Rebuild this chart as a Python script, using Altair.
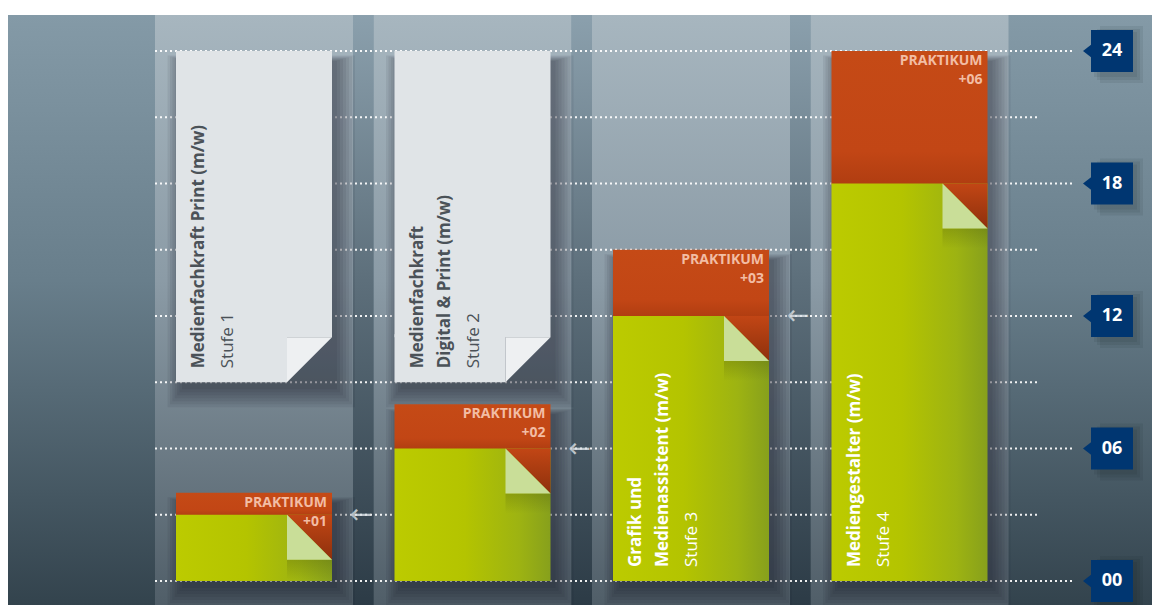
import altair as alt
import pandas as pd

# ---------------- data ----------------
stage_no = [1, 2, 3, 4]
stufe_labels = ["Stufe 1", "Stufe 2", "Stufe 3", "Stufe 4"]
title_lines = [
    ["Medienfachkraft Print (m/w)"],
    ["Medienfachkraft", "Digital & Print (m/w)"],
    ["Grafik und", "Medienassistent  (m/w)"],
    ["Mediengestalter (m/w)"],
]
ausbildung = [3, 6, 12, 18]          # green part (months)
praktikum = [1, 2, 3, 6]             # orange part (months)
praktikum_labels = ["+01", "+02", "+03", "+06"]
card_from = [9, 9, None, None]       # grey title cards of stage 1 & 2
card_to = [24, 24, None, None]
major_ticks = [0, 6, 12, 18, 24]
minor_ticks = [3, 9, 15, 21]

# ---------------- layout constants ----------------
W, H = 1144, 590
PX_X = 218.5                 # pixels per stage step
PX_Y = 530 / 24              # pixels per month
X_DOM = [1 - 246 / PX_X, 1 - 246 / PX_X + W / PX_X]
Y_DOM = [-24 / PX_Y, 566 / PX_Y]
ux = lambda p: p / PX_X
uy = lambda p: p / PX_Y

BAR_HALF = ux(78)
BAND_HALF = ux(99)
FX, FY = ux(45), uy(45)
FONT = "Open Sans"

xs = alt.Scale(domain=X_DOM, nice=False, zero=False)
ys = alt.Scale(domain=Y_DOM, nice=False, zero=False)
X = lambda f: alt.X(f, type="quantitative", scale=xs, axis=None)
Y = lambda f: alt.Y(f, type="quantitative", scale=ys, axis=None)


def vgrad(stops, horizontal=False):
    return alt.Gradient(
        gradient="linear",
        stops=[alt.GradientStop(offset=o, color=c) for o, c in stops],
        x1=0, y1=0, x2=1 if horizontal else 0, y2=0 if horizontal else 1,
    )


# ---------------- background ----------------
bg = alt.Chart(pd.DataFrame({"a": [0]})).mark_rect(
    color=vgrad([(0, "#849aa7"), (0.45, "#687e8b"), (1, "#33434d")])
).encode(x=alt.value(0), x2=alt.value(W), y=alt.value(0), y2=alt.value(H))

band_df = pd.DataFrame({"s": stage_no})
band_df["x0"] = band_df.s - BAND_HALF
band_df["x1"] = band_df.s + BAND_HALF
bands = alt.Chart(band_df).mark_rect(
    color=vgrad([(0, "#a7b6bf"), (0.45, "#8b9ba6"), (1, "#505e68")])
).encode(x=X("x0"), x2="x1", y=alt.value(0), y2=alt.value(H))

gap_df = pd.DataFrame({"s": stage_no[:-1]})
gap_df["x0"] = gap_df.s + BAND_HALF
gap_df["x1"] = gap_df.s + 1 - BAND_HALF
gaps = alt.Chart(gap_df).mark_rect(
    color=vgrad([(0, "#8ba0ad"), (0.45, "#5d6f7b"), (1, "#2c3b46")])
).encode(x=X("x0"), x2="x1", y=alt.value(0), y2=alt.value(H))

# ---------------- grid ----------------
GRID_X0 = 1 - BAND_HALF
grid_df = pd.DataFrame(
    {"v": major_ticks + minor_ticks,
     "x0": [GRID_X0] * (len(major_ticks) + len(minor_ticks)),
     "x1": [1 + ux(1073 - 254)] * len(major_ticks) + [1 + ux(1037 - 254)] * len(minor_ticks)}
)
grid = alt.Chart(grid_df).mark_rule(
    color="white", strokeWidth=2, strokeDash=[2, 3], opacity=0.92
).encode(x=X("x0"), x2="x1", y=Y("v"))

# arrows
arrow_df = pd.DataFrame({"s": stage_no[:-1], "v": ausbildung[:-1]})
arrow_df["x"] = arrow_df.s + BAR_HALF + ux(29)
arrow_df["t"] = "←"
arrows = alt.Chart(arrow_df).mark_text(
    font="DejaVu Sans", fontSize=27, color="#dfe5ea", opacity=0.8, baseline="middle"
).encode(x=X("x"), y=Y("v"), text="t:N")

# ---------------- shadows ----------------
rows = []
for i, s in enumerate(stage_no):
    blocks = [(0, ausbildung[i] + praktikum[i])]
    if card_from[i] is not None:
        blocks.append((card_from[i], card_to[i]))
    for lo, hi in blocks:
        for k in [0, 3, 6, 9, 12, 15, 18]:
            rows.append({
                "x0": s - BAR_HALF + ux(6 - 0.8 * k), "x1": s + BAR_HALF + ux(5 + k),
                "y0": lo - uy(7 + k), "y1": hi - uy(10 - 0.3 * k),
            })
shadow_df = pd.DataFrame(rows)
shadows = alt.Chart(shadow_df).mark_rect(color="#0b141b", opacity=0.07).encode(
    x=X("x0"), x2="x1", y=Y("y0"), y2="y1")

# ---------------- title cards (grey paper) ----------------
cards = pd.DataFrame({"s": stage_no, "c0": card_from, "c1": card_to}).dropna()
cards["x0"] = cards.s - BAR_HALF
cards["x1"] = cards.s + BAR_HALF
cards["xf"] = cards.x1 - FX
cards["cf"] = cards.c0 + FY
cards["cfo"] = cards.cf + uy(3)      # small overlap, hides the seam
PAPER = "#e0e4e7"
card_top = alt.Chart(cards).mark_rect(color=PAPER).encode(
    x=X("x0"), x2="x1", y=Y("cf"), y2="c1")
card_low = alt.Chart(cards).mark_rect(color=PAPER).encode(
    x=X("x0"), x2="xf", y=Y("c0"), y2="cfo")
cf_rows = []
for _, r in cards.iterrows():
    cf_rows.append({"s": r.s, "x": r.xf, "y": r.c0, "y2": r.cf})
    cf_rows.append({"s": r.s, "x": r.x1, "y": r.cf, "y2": r.cf})
card_fold = alt.Chart(pd.DataFrame(cf_rows)).mark_area(
    color="#eef0f2", interpolate="linear").encode(
    x=X("x"), y=Y("y"), y2="y2", detail="s:N")

# ---------------- bars ----------------
bars = pd.DataFrame({"s": stage_no, "g": ausbildung, "p": praktikum})
bars["top"] = bars.g + bars.p
bars["zero"] = 0
bars["x0"] = bars.s - BAR_HALF
bars["x1"] = bars.s + BAR_HALF
bars["gl"] = bars.g - uy(1)
orange = alt.Chart(bars).mark_rect(
    color=vgrad([(0, "#c54a16"), (0.75, "#c24615"), (1, "#b03d11")])
).encode(x=X("x0"), x2="x1", y=Y("gl"), y2="top")
green = alt.Chart(bars).mark_rect(
    color=vgrad([(0, "#bccb00"), (0.45, "#b4c400"), (0.8, "#9db312"), (1, "#87a01c")], horizontal=True)
).encode(x=X("x0"), x2="x1", y=Y("zero"), y2="g")

of_rows, gf_rows, sh_rows = [], [], []
for _, r in bars.iterrows():
    xf = r.x1 - FX
    of_rows.append({"s": r.s, "x": xf, "y": r.g, "y2": r.g})
    of_rows.append({"s": r.s, "x": r.x1, "y": r.g - FY, "y2": r.g})
    gf_rows.append({"s": r.s, "x": xf, "y": r.g - FY, "y2": r.g})
    gf_rows.append({"s": r.s, "x": r.x1, "y": r.g - FY, "y2": r.g - FY})
    sh_rows.append({"x0": xf, "x1": r.x1, "y0": r.g - FY - uy(20), "y1": r.g - FY})
orange_fold = alt.Chart(pd.DataFrame(of_rows)).mark_area(
    color=vgrad([(0, "#c24615"), (1, "#8e300c")]), interpolate="linear").encode(
    x=X("x"), y=Y("y"), y2="y2", detail="s:N")
fold_shadow = alt.Chart(pd.DataFrame(sh_rows)).mark_rect(
    color=vgrad([(0, "rgba(60,70,10,0.22)"), (1, "rgba(60,70,10,0)")])).encode(
    x=X("x0"), x2="x1", y=Y("y1"), y2="y0")
green_fold = alt.Chart(pd.DataFrame(gf_rows)).mark_area(
    color="#c9de98", interpolate="linear").encode(
    x=X("x"), y=Y("y"), y2="y2", detail="s:N")

# Praktikum labels
pk_rows = []
for _, r in bars.iterrows():
    pk_rows.append({"x": r.x1 - ux(5), "y": r.top - uy(10), "t": "PRAKTIKUM"})
    pk_rows.append({"x": r.x1 - ux(5), "y": r.top - uy(29), "t": praktikum_labels[int(r.s) - 1]})
pk_text = alt.Chart(pd.DataFrame(pk_rows)).mark_text(
    font=FONT, fontSize=14, fontWeight="bold", color="#f2bda4", align="right", baseline="middle"
).encode(x=X("x"), y=Y("y"), text="t:N")

# ---------------- vertical titles ----------------
bold_rows, reg_rows = [], []
for i, s in enumerate(stage_no):
    x0 = s - BAR_HALF
    on_card = card_from[i] is not None
    base = (card_from[i] if on_card else 0) + uy(14)
    col = "#4b5258" if on_card else "#ffffff"
    for j, line in enumerate(title_lines[i]):
        bold_rows.append({"x": x0 + ux(23 + 27 * j), "y": base, "t": line, "c": col})
    n = len(title_lines[i])
    reg_rows.append({"x": x0 + ux(23 + 27 * (n - 1) + 29), "y": base, "t": stufe_labels[i], "c": col})
title_bold = alt.Chart(pd.DataFrame(bold_rows)).mark_text(
    font=FONT, fontSize=17, fontWeight="bold", angle=270, align="left", baseline="middle"
).encode(x=X("x"), y=Y("y"), text="t:N", color=alt.Color("c:N", scale=None))
title_reg = alt.Chart(pd.DataFrame(reg_rows)).mark_text(
    font=FONT, fontSize=17, angle=270, align="left", baseline="middle"
).encode(x=X("x"), y=Y("y"), text="t:N", color=alt.Color("c:N", scale=None))

# ---------------- y-axis labels (boxes) ----------------
BOX_X = 1 + ux(1112 - 254)
box_df = pd.DataFrame({"v": major_ticks})
box_df["t"] = [f"{v:02d}" for v in major_ticks]
box_df["x0"] = BOX_X - ux(21)
box_df["x1"] = BOX_X + ux(21)
box_df["y0"] = box_df.v - uy(21)
box_df["y1"] = box_df.v + uy(21)
box_df["xc"] = BOX_X
bs_rows = []
for v in major_ticks:
    for k in [0, 3, 6]:
        bs_rows.append({"x0": BOX_X - ux(21 - 3 - k), "x1": BOX_X + ux(21 + 4 + k),
                        "y0": v - uy(21 + 5 + k), "y1": v + uy(21 - 2 + k)})
box_shadow = alt.Chart(pd.DataFrame(bs_rows)).mark_rect(color="#0b141b", opacity=0.08).encode(
    x=X("x0"), x2="x1", y=Y("y0"), y2="y1")
boxes = alt.Chart(box_df).mark_rect(color="#003671").encode(
    x=X("x0"), x2="x1", y=Y("y0"), y2="y1")
tri_rows = []
for v in major_ticks:
    tri_rows.append({"v": v, "x": 1 + ux(1083 - 254), "y": v, "y2": v})
    tri_rows.append({"v": v, "x": BOX_X - ux(20), "y": v - uy(7), "y2": v + uy(7)})
tris = alt.Chart(pd.DataFrame(tri_rows)).mark_area(color="#003671", interpolate="linear").encode(
    x=X("x"), y=Y("y"), y2="y2", detail="v:N")
box_text = alt.Chart(box_df).mark_text(
    font=FONT, fontSize=18, fontWeight="bold", color="white", baseline="middle", align="center"
).encode(x=X("xc"), y=Y("v"), text="t:N")

chart = alt.layer(
    bg, bands, gaps, grid, arrows, shadows,
    card_top, card_low, card_fold,
    orange, green, orange_fold, fold_shadow, green_fold,
    pk_text, title_bold, title_reg,
    box_shadow, tris, boxes, box_text,
).properties(
    width=W, height=H,
    padding={"left": 0, "top": 7, "right": 0, "bottom": 0},
    autosize=alt.AutoSizeParams(type="none"),
).configure_view(stroke=None)

chart.save("out.html", embed_options={"renderer": "svg", "actions": False})
